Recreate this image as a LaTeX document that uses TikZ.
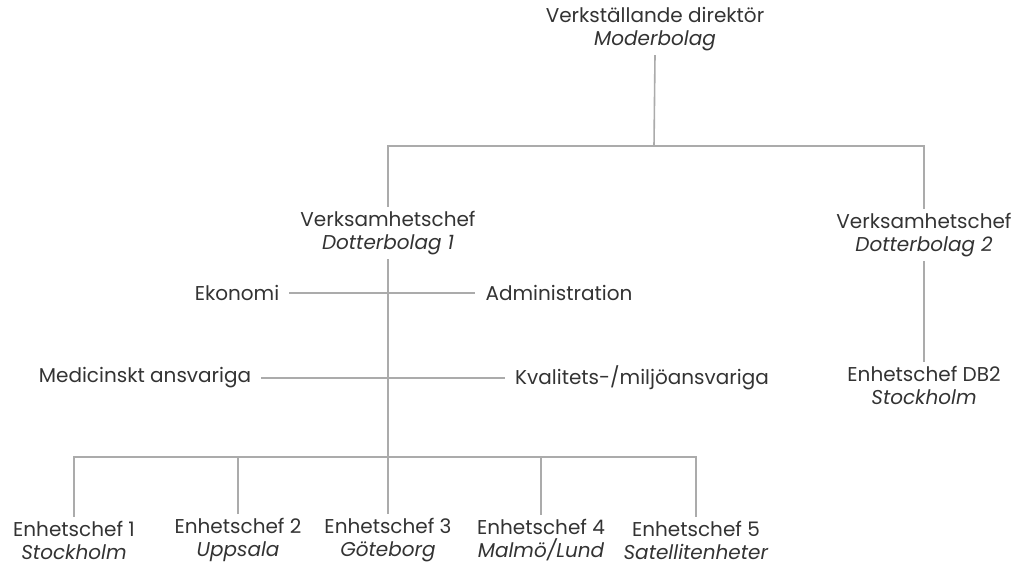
\documentclass[tikz,border=0pt]{standalone}
\usepackage{fontspec}
\setmainfont{Poppins}
\usepackage{tikz}

\definecolor{txt}{HTML}{333333}
\definecolor{lin}{HTML}{ABABAB}

\begin{document}
\begin{tikzpicture}[x=1pt, y=-1pt,
    every node/.style={align=center, text=txt, font=\fontsize{20}{23}\selectfont, inner xsep=2pt, inner ysep=4pt},
    side/.style={inner xsep=10pt},
    conn/.style={draw=lin, line width=1.6pt}]
        \useasboundingbox (0,0) rectangle (1022,567);

        % Top level
        \node (vd) at (655,29) {Verkställande direktör\\\textit{Moderbolag}};
        \coordinate (split) at (654,146);

        % Subsidiaries
        \node (vc1) at (388,233) {Verksamhetschef\\\textit{Dotterbolag 1}};
        \node (vc2) at (924,235) {Verksamhetschef\\\textit{Dotterbolag 2}};

        % Staff functions
        \node[side] (eko) at (237,293) {Ekonomi};
        \node[side] (adm) at (559,293) {Administration};
        \node[side] (med) at (145,378) {Medicinskt ansvariga};
        \node[side] (kval) at (642,378) {Kvalitets-/miljöansvariga};

        % Units
        \node (db2) at (924,385) {Enhetschef DB2\\\textit{Stockholm}};
        \node (e1) at (74,540) {Enhetschef 1\\\textit{Stockholm}};
        \node (e2) at (238,540) {Enhetschef 2\\\textit{Uppsala}};
        \node (e3) at (388,540) {Enhetschef 3\\\textit{Göteborg}};
        \node (e4) at (541,540) {Enhetschef 4\\\textit{Malmö/Lund}};
        \node (e5) at (696,540) {Enhetschef 5\\\textit{Satellitenheter}};
        \coordinate (bus) at (388,457);

        % Connectors
        \draw[conn] (vd.south) -- (split);
        \draw[conn] (vc1.north) |- (split) -| (vc2.north);
        \draw[conn] (vc1.south) -- (e3.north);
        \draw[conn] (eko.east) -- (adm.west);
        \draw[conn] (med.east) -- (kval.west);
        \draw[conn] (e1.north) |- (bus) -| (e5.north);
        \draw[conn] (e2.north) -- (e2.north |- bus);
        \draw[conn] (e4.north) -- (e4.north |- bus);
        \draw[conn] (vc2.south) -- (db2.north);
    \end{tikzpicture}
\end{document}
